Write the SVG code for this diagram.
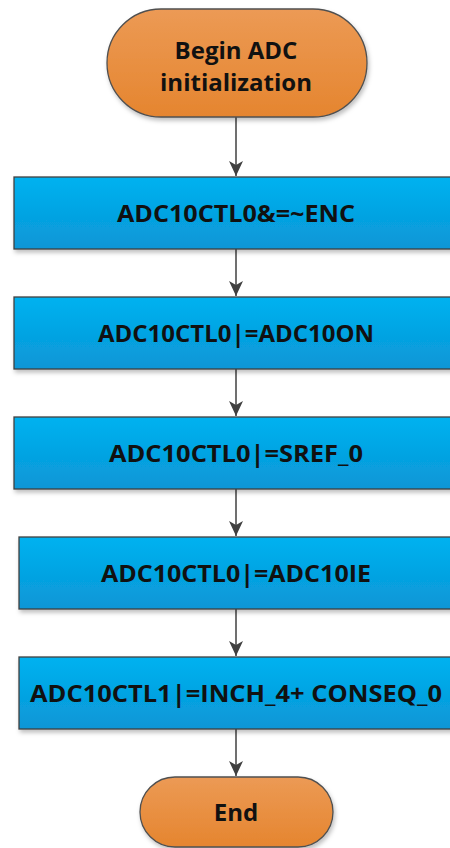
<svg xmlns="http://www.w3.org/2000/svg" width="450" height="848" viewBox="0 0 450 848">
<defs>
<linearGradient id="gBlue" x1="0" y1="0" x2="0" y2="1">
<stop offset="0" stop-color="#00b2f0"/>
<stop offset="1" stop-color="#0a96d6"/>
</linearGradient>
<linearGradient id="gOrange" x1="0" y1="0" x2="0" y2="1">
<stop offset="0" stop-color="#ec9a55"/>
<stop offset="1" stop-color="#e5852f"/>
</linearGradient>
<filter id="sh" x="-10%" y="-10%" width="130%" height="140%">
<feDropShadow dx="1.5" dy="3" stdDeviation="2" flood-color="#000" flood-opacity="0.25"/>
</filter>
<marker id="arr" viewBox="0 0 15 14" refX="15" refY="7" markerWidth="15" markerHeight="14" markerUnits="userSpaceOnUse" orient="auto">
<path d="M0,0 L4,7 L0,14 L15,7 Z" fill="#404040"/>
</marker>
</defs>
<style>
.box{fill:url(#gBlue);stroke:#404040;stroke-width:1.3;filter:url(#sh)}
.term{fill:url(#gOrange);stroke:#505050;stroke-width:1.3;filter:url(#sh)}
.t{font-family:"Open Sans","Noto Sans","Liberation Sans",sans-serif;font-weight:bold;font-size:24px;fill:#111;text-anchor:middle}
.conn line{stroke:#404040;stroke-width:1.5;marker-end:url(#arr)}
</style>
<g class="conn" id="connectors">
<line x1="236" y1="117" x2="236" y2="176"/>
<line x1="236" y1="249" x2="236" y2="296"/>
<line x1="236" y1="369" x2="236" y2="416"/>
<line x1="236" y1="489" x2="236" y2="536"/>
<line x1="236" y1="609" x2="236" y2="656"/>
<line x1="236" y1="729" x2="236" y2="776"/>
</g>
<g id="start">
<rect class="term" x="107" y="9" width="260" height="108" rx="54"/>
<text class="t" x="236" y="59">Begin ADC</text>
<text class="t" x="236" y="91">initialization</text>
</g>
<g id="step1">
<rect class="box" x="14" y="177" width="444" height="72"/>
<text class="t" x="236" y="222" textLength="238" lengthAdjust="spacingAndGlyphs">ADC10CTL0&amp;=~ENC</text>
</g>
<g id="step2">
<rect class="box" x="14" y="297" width="444" height="72"/>
<text class="t" x="236" y="342" textLength="276" lengthAdjust="spacingAndGlyphs">ADC10CTL0|=ADC10ON</text>
</g>
<g id="step3">
<rect class="box" x="14" y="417" width="444" height="72"/>
<text class="t" x="236" y="462" textLength="254" lengthAdjust="spacingAndGlyphs">ADC10CTL0|=SREF_0</text>
</g>
<g id="step4">
<rect class="box" x="19" y="537" width="436" height="72"/>
<text class="t" x="236" y="582" textLength="270" lengthAdjust="spacingAndGlyphs">ADC10CTL0|=ADC10IE</text>
</g>
<g id="step5">
<rect class="box" x="19" y="657" width="436" height="72"/>
<text class="t" x="236" y="702" textLength="412" lengthAdjust="spacingAndGlyphs">ADC10CTL1|=INCH_4+ CONSEQ_0</text>
</g>
<g id="end">
<rect class="term" x="140" y="777" width="193" height="70" rx="35"/>
<text class="t" x="236" y="821">End</text>
</g>
</svg>
